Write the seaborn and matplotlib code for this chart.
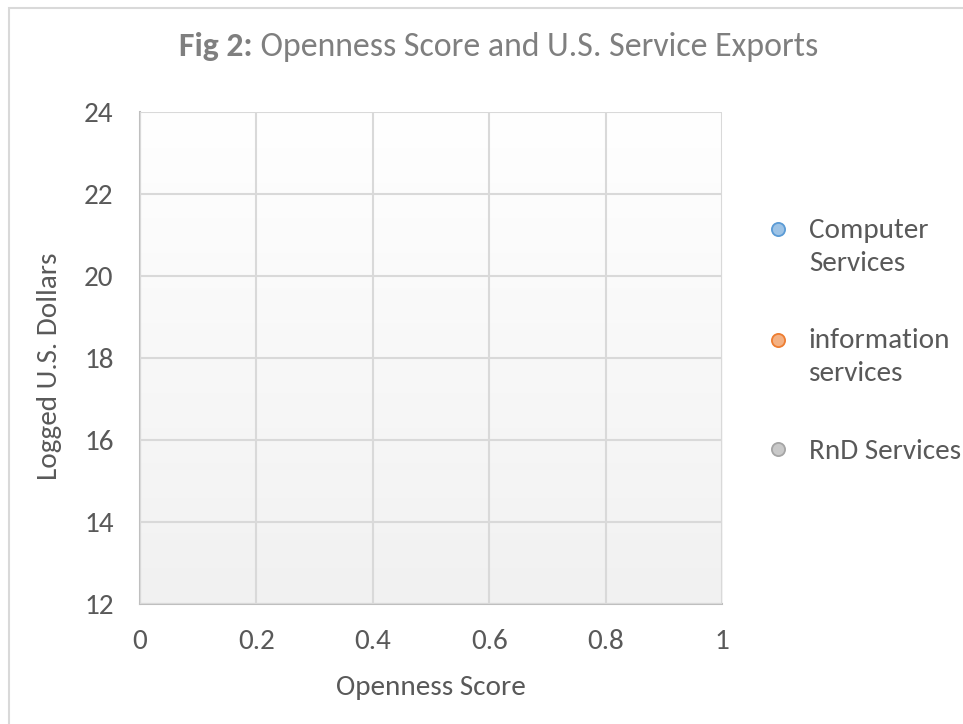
import numpy as np
import matplotlib
matplotlib.use("Agg")
import matplotlib.pyplot as plt
import seaborn as sns
from matplotlib.patches import Rectangle
from matplotlib.colors import LinearSegmentedColormap
from matplotlib.legend_handler import HandlerPathCollection

# -------------------------------
# DATA (the source chart shows no plotted points)
# -------------------------------
series = ["Computer\nServices", "information\nservices", "RnD Services"]
series_colors = ["#9dc3e6", "#f4b183", "#c9c9c9"]
series_edges = ["#5b9bd5", "#ed7d31", "#a5a5a5"]
openness = [[], [], []]
logged_usd = [[], [], []]

x_ticks = [0, 0.2, 0.4, 0.6, 0.8, 1]
x_labels = ["0", "0.2", "0.4", "0.6", "0.8", "1"]
y_ticks = [12, 14, 16, 18, 20, 22, 24]

title_bold = "Fig 2:"
title_rest = " Openness Score and U.S. Service Exports"

# -------------------------------
# STYLE
# -------------------------------
sns.set_style("white")
plt.rcParams["font.family"] = ["Carlito", "Open Sans", "DejaVu Sans"]
text_col = "#595959"
fs = 21

W, H = 963, 724
fig = plt.figure(figsize=(W / 100, H / 100), dpi=100)
ax = fig.add_axes([140 / W, 1 - 604 / H, (722 - 140) / W, (604 - 112) / H])

# outer chart border (only left/top visible in the crop)
fig.patches.append(Rectangle((8.5 / W, -0.1), 2, (1 - 7.5 / H) + 0.1,
                             transform=fig.transFigure, fill=False,
                             edgecolor="#d9d9d9", linewidth=1.5, zorder=0))

# gradient plot area: white at top, light grey at bottom
grad = np.linspace(0.0, 1.0, 256).reshape(-1, 1)
ax.imshow(grad, extent=[0, 1, 0, 1], transform=ax.transAxes, aspect="auto",
          cmap=LinearSegmentedColormap.from_list("g", ["#ffffff", "#f1f1f1"]),
          vmin=0, vmax=1, zorder=0)

handles = []
for name, xs, ys, fc, ec in zip(series, openness, logged_usd, series_colors, series_edges):
    sns.scatterplot(x=np.array(xs, dtype=float), y=np.array(ys, dtype=float), ax=ax,
                    color=fc, edgecolor=ec)
    handles.append(ax.scatter([], [], s=90, color=fc, edgecolors=ec,
                              linewidths=1.3, label=name))

ax.set_xlim(0, 1)
ax.set_ylim(12, 24)
ax.set_xticks(x_ticks)
ax.set_xticklabels(x_labels)
ax.set_yticks(y_ticks)
ax.grid(True, color="#d9d9d9", linewidth=1.5, zorder=1)
ax.set_axisbelow(False)
for s in ["top", "right"]:
    ax.spines[s].set_visible(False)
for s in ["left", "bottom"]:
    ax.spines[s].set_color("#bfbfbf")
    ax.spines[s].set_linewidth(1.5)
ax.tick_params(axis="both", length=0, labelsize=fs, colors=text_col)
ax.tick_params(axis="x", pad=18)
ax.tick_params(axis="y", pad=19)

ax.set_xlabel("Openness Score", fontsize=fs, color=text_col, va="top")
ax.set_ylabel("Logged U.S. Dollars", fontsize=fs, color=text_col)
ax.xaxis.set_label_coords(0.5, -0.145)
ax.yaxis.set_label_coords(-0.134, 0.484)

# title: bold "Fig 2:" followed by regular text, fitted to the reference width
r = fig.canvas.get_renderer()
tsize = 21
t1 = fig.text(0, 0, title_bold, fontsize=tsize, weight="bold")
t2 = fig.text(0, 0, title_rest, fontsize=tsize)
w_tot = t1.get_window_extent(r).width + t2.get_window_extent(r).width
tsize = tsize * 638 / w_tot
t1.set_fontsize(tsize)
t2.set_fontsize(tsize)
w1 = t1.get_window_extent(r).width
x0 = 179
for t, x in [(t1, x0), (t2, x0 + w1)]:
    t.set_position((x / W, 1 - 56 / H))
    t.set_color("#7f7f7f")
    t.set_va("baseline")

# legend: markers aligned with the first line of each label
hmap = {h: HandlerPathCollection(yoffsets=[1.35]) for h in handles[:2]}
hmap[handles[2]] = HandlerPathCollection(yoffsets=[0.5])
leg = ax.legend(handles=handles, loc="upper left",
                bbox_to_anchor=(752 / W, 1 - 206 / H), bbox_transform=fig.transFigure,
                frameon=False, fontsize=fs, labelcolor=text_col, handletextpad=0.55,
                labelspacing=1.8, borderaxespad=0, handler_map=hmap,
                scatterpoints=1, handlelength=1.0)
for t in leg.get_texts():
    t.set_linespacing(1.4)

fig.savefig("out.png", dpi=100)
